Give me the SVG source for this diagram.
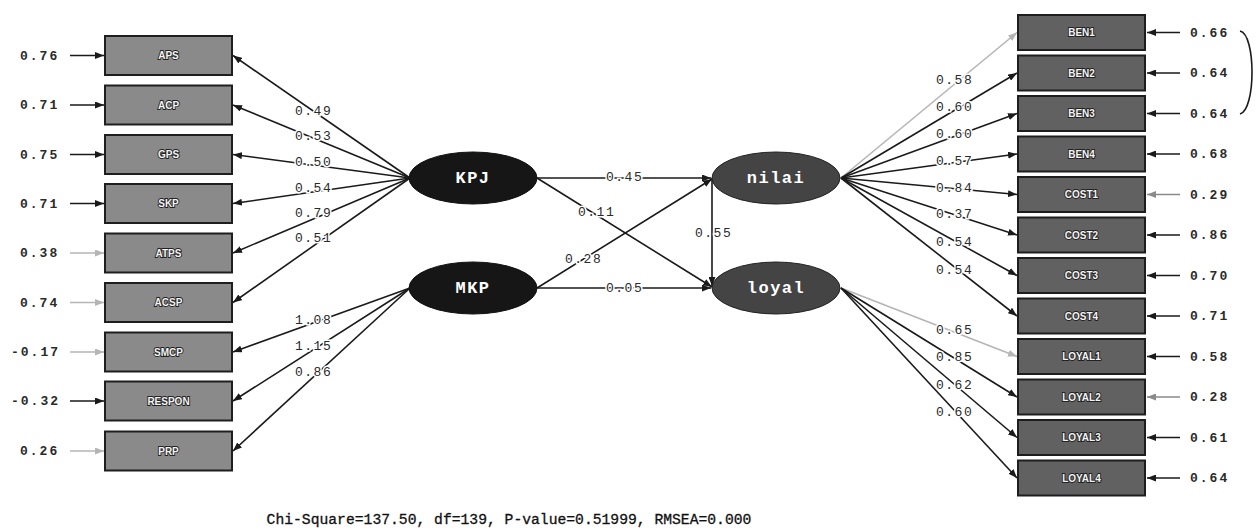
<svg xmlns="http://www.w3.org/2000/svg" width="1257" height="530" viewBox="0 0 1257 530">
  <style>
    .bg { fill: #ffffff; }
    .obs-l { fill: #8a8a8a; stroke: #1e1e1e; stroke-width: 2; }
    .obs-r { fill: #616161; stroke: #1e1e1e; stroke-width: 2; }
    .lat-x { fill: #161616; stroke: #111; stroke-width: 1; }
    .lat-y { fill: #444444; stroke: #222; stroke-width: 1; }
    .obs-t { font-family: "Liberation Sans", Arial, sans-serif; font-size: 10px; font-weight: bold; fill: #f4f4f4; stroke: #222; stroke-width: 1.8px; paint-order: stroke; text-anchor: middle; dominant-baseline: central; }
    .lat-t { font-family: "Liberation Mono", "Courier New", monospace; font-size: 17px; font-weight: bold; fill: #ffffff; letter-spacing: 1.5px; text-anchor: middle; dominant-baseline: central; }
    .num { font-family: "Liberation Mono", "Courier New", monospace; font-size: 13px; font-weight: bold; fill: #2a2a2a; letter-spacing: 2px; dominant-baseline: central; }
    .lab { font-family: "Liberation Mono", "Courier New", monospace; font-size: 13px; fill: #2a2a2a; letter-spacing: 1.5px; dominant-baseline: central; stroke: #fff; stroke-width: 3px; paint-order: stroke; }
    .ln { fill: none; stroke: #1a1a1a; stroke-width: 1.6; }
    .lg { fill: none; stroke: #b5b5b5; stroke-width: 1.6; }
    .mg { fill: none; stroke: #8a8a8a; stroke-width: 1.6; }
    .fit { font-family: "Liberation Mono", "Courier New", monospace; font-size: 14.7px; fill: #111; stroke: #111; stroke-width: 0.3px; text-anchor: middle; dominant-baseline: central; }
  </style>
  <defs>
    <marker id="ah" markerUnits="userSpaceOnUse" markerWidth="9" markerHeight="7" refX="9" refY="3.5" orient="auto">
      <path d="M0,0 L9,3.5 L0,7 z" fill="#1a1a1a"/>
    </marker>
    <marker id="ahl" markerUnits="userSpaceOnUse" markerWidth="9" markerHeight="7" refX="9" refY="3.5" orient="auto">
      <path d="M0,0 L9,3.5 L0,7 z" fill="#b5b5b5"/>
    </marker>
    <marker id="ahm" markerUnits="userSpaceOnUse" markerWidth="9" markerHeight="7" refX="9" refY="3.5" orient="auto">
      <path d="M0,0 L9,3.5 L0,7 z" fill="#8a8a8a"/>
    </marker>
  </defs>

  <rect class="bg" x="0" y="0" width="1257" height="530"/>

  <!-- paths, error terms and the correlation between errors -->
  <g id="connectors">
    <!-- exogenous loadings: KPJ -->
    <line class="ln" x1="410" y1="178" x2="233" y2="55.5" marker-end="url(#ah)"/>
    <line class="ln" x1="410" y1="178" x2="233" y2="105" marker-end="url(#ah)"/>
    <line class="ln" x1="410" y1="178" x2="233" y2="154.5" marker-end="url(#ah)"/>
    <line class="ln" x1="410" y1="178" x2="233" y2="203.5" marker-end="url(#ah)"/>
    <line class="ln" x1="410" y1="178" x2="233" y2="253" marker-end="url(#ah)"/>
    <line class="ln" x1="410" y1="178" x2="233" y2="302.5" marker-end="url(#ah)"/>
    <!-- exogenous loadings: MKP -->
    <line class="ln" x1="410" y1="288" x2="233" y2="352" marker-end="url(#ah)"/>
    <line class="ln" x1="410" y1="288" x2="233" y2="401" marker-end="url(#ah)"/>
    <line class="ln" x1="410" y1="288" x2="233" y2="451" marker-end="url(#ah)"/>

    <!-- left error arrows -->
    <line class="ln" x1="70" y1="55.5" x2="104" y2="55.5" marker-end="url(#ah)"/>
    <line class="ln" x1="70" y1="105" x2="104" y2="105" marker-end="url(#ah)"/>
    <line class="ln" x1="70" y1="154.5" x2="104" y2="154.5" marker-end="url(#ah)"/>
    <line class="ln" x1="70" y1="203.5" x2="104" y2="203.5" marker-end="url(#ah)"/>
    <line class="lg" x1="70" y1="253" x2="104" y2="253" marker-end="url(#ahl)"/>
    <line class="lg" x1="70" y1="302.5" x2="104" y2="302.5" marker-end="url(#ahl)"/>
    <line class="lg" x1="70" y1="352" x2="104" y2="352" marker-end="url(#ahl)"/>
    <line class="ln" x1="70" y1="401" x2="104" y2="401" marker-end="url(#ah)"/>
    <line class="lg" x1="70" y1="451" x2="104" y2="451" marker-end="url(#ahl)"/>

    <!-- structural paths -->
    <line class="ln" x1="537" y1="178" x2="711" y2="178" marker-end="url(#ah)"/>
    <line class="ln" x1="537" y1="178" x2="712" y2="287" marker-end="url(#ah)"/>
    <line class="ln" x1="537" y1="288" x2="712" y2="179" marker-end="url(#ah)"/>
    <line class="ln" x1="537" y1="288" x2="711" y2="288" marker-end="url(#ah)"/>
    <line class="ln" x1="712" y1="178" x2="712" y2="286" marker-end="url(#ah)"/>

    <!-- endogenous loadings: nilai -->
    <line class="lg" x1="841" y1="178" x2="1017" y2="32.5" marker-end="url(#ahl)"/>
    <line class="ln" x1="841" y1="178" x2="1017" y2="73" marker-end="url(#ah)"/>
    <line class="ln" x1="841" y1="178" x2="1017" y2="113.5" marker-end="url(#ah)"/>
    <line class="ln" x1="841" y1="178" x2="1017" y2="154" marker-end="url(#ah)"/>
    <line class="ln" x1="841" y1="178" x2="1017" y2="194.5" marker-end="url(#ah)"/>
    <line class="ln" x1="841" y1="178" x2="1017" y2="235" marker-end="url(#ah)"/>
    <line class="ln" x1="841" y1="178" x2="1017" y2="275.5" marker-end="url(#ah)"/>
    <line class="ln" x1="841" y1="178" x2="1017" y2="316" marker-end="url(#ah)"/>
    <!-- endogenous loadings: loyal -->
    <line class="lg" x1="841" y1="288" x2="1017" y2="356.5" marker-end="url(#ahl)"/>
    <line class="ln" x1="841" y1="288" x2="1017" y2="397" marker-end="url(#ah)"/>
    <line class="ln" x1="841" y1="288" x2="1017" y2="437.5" marker-end="url(#ah)"/>
    <line class="ln" x1="841" y1="288" x2="1017" y2="478" marker-end="url(#ah)"/>

    <!-- right error arrows -->
    <line class="ln" x1="1180" y1="32.5" x2="1147" y2="32.5" marker-end="url(#ah)"/>
    <line class="ln" x1="1180" y1="73" x2="1147" y2="73" marker-end="url(#ah)"/>
    <line class="ln" x1="1180" y1="113.5" x2="1147" y2="113.5" marker-end="url(#ah)"/>
    <line class="ln" x1="1180" y1="154" x2="1147" y2="154" marker-end="url(#ah)"/>
    <line class="mg" x1="1180" y1="194.5" x2="1147" y2="194.5" marker-end="url(#ahm)"/>
    <line class="ln" x1="1180" y1="235" x2="1147" y2="235" marker-end="url(#ah)"/>
    <line class="ln" x1="1180" y1="275.5" x2="1147" y2="275.5" marker-end="url(#ah)"/>
    <line class="ln" x1="1180" y1="316" x2="1147" y2="316" marker-end="url(#ah)"/>
    <line class="ln" x1="1180" y1="356.5" x2="1147" y2="356.5" marker-end="url(#ah)"/>
    <line class="mg" x1="1180" y1="397" x2="1147" y2="397" marker-end="url(#ahm)"/>
    <line class="ln" x1="1180" y1="437.5" x2="1147" y2="437.5" marker-end="url(#ah)"/>
    <line class="ln" x1="1180" y1="478" x2="1147" y2="478" marker-end="url(#ah)"/>

    <!-- error covariance BEN1 - BEN3 -->
    <path class="ln" d="M1240,31 C1256,34 1256,110 1240,114"/>

    <!-- loading / path coefficients -->
    <text class="lab" x="295" y="111">0.49</text>
    <text class="lab" x="295" y="136">0.53</text>
    <text class="lab" x="295" y="162">0.50</text>
    <text class="lab" x="295" y="188">0.54</text>
    <text class="lab" x="295" y="213">0.79</text>
    <text class="lab" x="295" y="238">0.51</text>
    <text class="lab" x="295" y="320">1.08</text>
    <text class="lab" x="295" y="346">1.15</text>
    <text class="lab" x="295" y="372">0.86</text>

    <text class="lab" x="606" y="177">0.45</text>
    <text class="lab" x="578" y="212">0.11</text>
    <text class="lab" x="565" y="259">0.28</text>
    <text class="lab" x="606" y="288">0.05</text>
    <text class="lab" x="695" y="233">0.55</text>

    <text class="lab" x="936" y="80">0.58</text>
    <text class="lab" x="936" y="107">0.60</text>
    <text class="lab" x="936" y="134">0.60</text>
    <text class="lab" x="936" y="161">0.57</text>
    <text class="lab" x="936" y="188">0.84</text>
    <text class="lab" x="936" y="214">0.37</text>
    <text class="lab" x="936" y="242">0.54</text>
    <text class="lab" x="936" y="270">0.54</text>
    <text class="lab" x="936" y="330">0.65</text>
    <text class="lab" x="936" y="357">0.85</text>
    <text class="lab" x="936" y="385">0.62</text>
    <text class="lab" x="936" y="412">0.60</text>
  </g>

  <!-- error variances, left -->
  <g id="err-left">
    <text class="num" x="20" y="56">0.76</text>
    <text class="num" x="20" y="105">0.71</text>
    <text class="num" x="20" y="155">0.75</text>
    <text class="num" x="20" y="204">0.71</text>
    <text class="num" x="20" y="253">0.38</text>
    <text class="num" x="20" y="303">0.74</text>
    <text class="num" x="11" y="352">-0.17</text>
    <text class="num" x="11" y="401">-0.32</text>
    <text class="num" x="20" y="451">0.26</text>
  </g>

  <!-- error variances, right -->
  <g id="err-right">
    <text class="num" x="1190" y="33">0.66</text>
    <text class="num" x="1190" y="73">0.64</text>
    <text class="num" x="1190" y="114">0.64</text>
    <text class="num" x="1190" y="154">0.68</text>
    <text class="num" x="1190" y="195">0.29</text>
    <text class="num" x="1190" y="235">0.86</text>
    <text class="num" x="1190" y="276">0.70</text>
    <text class="num" x="1190" y="316">0.71</text>
    <text class="num" x="1190" y="357">0.58</text>
    <text class="num" x="1190" y="397">0.28</text>
    <text class="num" x="1190" y="438">0.61</text>
    <text class="num" x="1190" y="478">0.64</text>
  </g>

  <!-- observed indicators, exogenous -->
  <g id="APS"><rect class="obs-l" x="105" y="36" width="127" height="39"/><text class="obs-t" x="168.5" y="55.5">APS</text></g>
  <g id="ACP"><rect class="obs-l" x="105" y="85.5" width="127" height="39"/><text class="obs-t" x="168.5" y="105">ACP</text></g>
  <g id="GPS"><rect class="obs-l" x="105" y="135" width="127" height="39"/><text class="obs-t" x="168.5" y="154.5">GPS</text></g>
  <g id="SKP"><rect class="obs-l" x="105" y="184" width="127" height="39"/><text class="obs-t" x="168.5" y="203.5">SKP</text></g>
  <g id="ATPS"><rect class="obs-l" x="105" y="233.5" width="127" height="39"/><text class="obs-t" x="168.5" y="253">ATPS</text></g>
  <g id="ACSP"><rect class="obs-l" x="105" y="283" width="127" height="39"/><text class="obs-t" x="168.5" y="302.5">ACSP</text></g>
  <g id="SMCP"><rect class="obs-l" x="105" y="332.5" width="127" height="39"/><text class="obs-t" x="168.5" y="352">SMCP</text></g>
  <g id="RESPON"><rect class="obs-l" x="105" y="381.5" width="127" height="39"/><text class="obs-t" x="168.5" y="401">RESPON</text></g>
  <g id="PRP"><rect class="obs-l" x="105" y="431.5" width="127" height="39"/><text class="obs-t" x="168.5" y="451">PRP</text></g>

  <!-- latent variables -->
  <g id="KPJ"><ellipse class="lat-x" cx="473" cy="178" rx="64" ry="26"/><text class="lat-t" x="473" y="178">KPJ</text></g>
  <g id="MKP"><ellipse class="lat-x" cx="473" cy="288" rx="64" ry="26"/><text class="lat-t" x="473" y="288">MKP</text></g>
  <g id="nilai"><ellipse class="lat-y" cx="776" cy="178" rx="64" ry="26"/><text class="lat-t" x="776" y="178">nilai</text></g>
  <g id="loyal"><ellipse class="lat-y" cx="776" cy="288" rx="64" ry="26"/><text class="lat-t" x="776" y="288">loyal</text></g>

  <!-- observed indicators, endogenous -->
  <g id="BEN1"><rect class="obs-r" x="1018" y="15" width="127" height="35"/><text class="obs-t" x="1081.5" y="32.5">BEN1</text></g>
  <g id="BEN2"><rect class="obs-r" x="1018" y="55.5" width="127" height="35"/><text class="obs-t" x="1081.5" y="73">BEN2</text></g>
  <g id="BEN3"><rect class="obs-r" x="1018" y="96" width="127" height="35"/><text class="obs-t" x="1081.5" y="113.5">BEN3</text></g>
  <g id="BEN4"><rect class="obs-r" x="1018" y="136.5" width="127" height="35"/><text class="obs-t" x="1081.5" y="154">BEN4</text></g>
  <g id="COST1"><rect class="obs-r" x="1018" y="177" width="127" height="35"/><text class="obs-t" x="1081.5" y="194.5">COST1</text></g>
  <g id="COST2"><rect class="obs-r" x="1018" y="217.5" width="127" height="35"/><text class="obs-t" x="1081.5" y="235">COST2</text></g>
  <g id="COST3"><rect class="obs-r" x="1018" y="258" width="127" height="35"/><text class="obs-t" x="1081.5" y="275.5">COST3</text></g>
  <g id="COST4"><rect class="obs-r" x="1018" y="298.5" width="127" height="35"/><text class="obs-t" x="1081.5" y="316">COST4</text></g>
  <g id="LOYAL1"><rect class="obs-r" x="1018" y="339" width="127" height="35"/><text class="obs-t" x="1081.5" y="356.5">LOYAL1</text></g>
  <g id="LOYAL2"><rect class="obs-r" x="1018" y="379.5" width="127" height="35"/><text class="obs-t" x="1081.5" y="397">LOYAL2</text></g>
  <g id="LOYAL3"><rect class="obs-r" x="1018" y="420" width="127" height="35"/><text class="obs-t" x="1081.5" y="437.5">LOYAL3</text></g>
  <g id="LOYAL4"><rect class="obs-r" x="1018" y="460.5" width="127" height="35"/><text class="obs-t" x="1081.5" y="478">LOYAL4</text></g>

  <!-- goodness-of-fit summary -->
  <text class="fit" x="509" y="520">Chi-Square=137.50, df=139, P-value=0.51999, RMSEA=0.000</text>
</svg>
